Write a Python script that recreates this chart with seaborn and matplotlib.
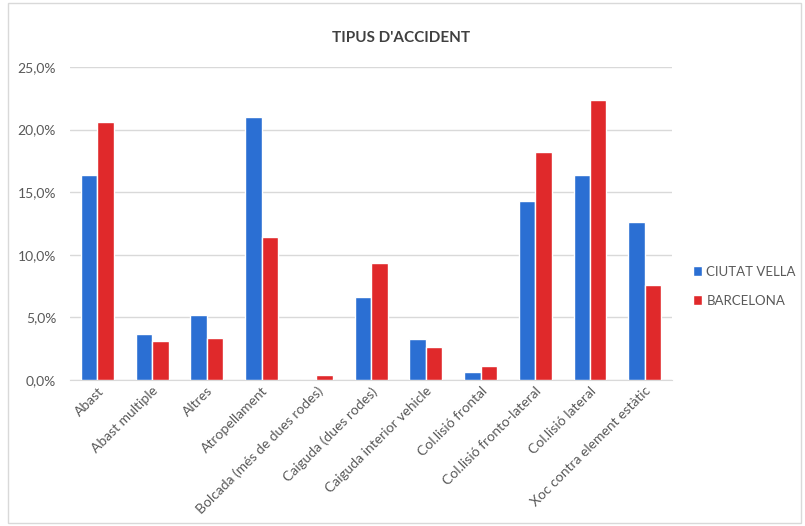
import pandas as pd
import seaborn as sns
import matplotlib.pyplot as plt
from matplotlib.ticker import FuncFormatter

# Accident types and share of accidents (%) for each area
categories = [
    "Abast", "Abast multiple", "Altres", "Atropellament",
    "Bolcada (més de dues rodes)", "Caiguda (dues rodes)",
    "Caiguda interior vehicle", "Col.lisió frontal",
    "Col.lisió fronto-lateral", "Col.lisió lateral",
    "Xoc contra element estàtic",
]
ciutat_vella = [16.4, 3.65, 5.2, 21.0, 0.0, 6.65, 3.3, 0.65, 14.3, 16.4, 12.6]
barcelona = [20.6, 3.1, 3.35, 11.45, 0.4, 9.35, 2.65, 1.15, 18.2, 22.4, 7.55]
series = ["CIUTAT VELLA", "BARCELONA"]

df = pd.DataFrame({
    "Tipus": categories * 2,
    "Zona": [series[0]] * len(categories) + [series[1]] * len(categories),
    "Valor": ciutat_vella + barcelona,
})

sns.set_style("white")
plt.rcParams["font.family"] = ["Lato", "DejaVu Sans"]

fig = plt.figure(figsize=(8.05, 5.26), dpi=100)
ax = fig.add_axes([0.087, 0.2776, 0.748, 0.595])

palette = {"CIUTAT VELLA": "#2b6fd3", "BARCELONA": "#e0292b"}
sns.barplot(data=df, x="Tipus", y="Valor", hue="Zona", palette=palette,
            width=0.6, saturation=1, ax=ax, zorder=3)

ax.set_ylim(0, 25)
ax.set_yticks([0, 5, 10, 15, 20, 25])
ax.yaxis.set_major_formatter(FuncFormatter(lambda v, p: f"{v:.1f}%".replace(".", ",")))
ax.grid(axis="y", color="#d9d9d9", linewidth=1, zorder=0)
ax.set_xlabel("")
ax.set_ylabel("")
for s in ["top", "right", "left"]:
    ax.spines[s].set_visible(False)
ax.spines["bottom"].set_color("#d9d9d9")
ax.tick_params(axis="both", length=0, colors="#595959", labelsize=10)
ax.tick_params(axis="y", pad=10)
plt.setp(ax.get_xticklabels(), rotation=45, ha="right", rotation_mode="anchor")

ax.set_title("TIPUS D'ACCIDENT", fontsize=11, fontweight="bold", color="#404040",
             x=0.55, pad=18)

ax.legend(loc="center left", bbox_to_anchor=(1.015, 0.3), frameon=False,
          handlelength=0.7, handleheight=0.7, labelspacing=1.3, fontsize=9.5,
          labelcolor="#595959", handletextpad=0.3)

# light border around the chart area
fig.patches.append(plt.Rectangle((0.01, 0.005), 0.985, 0.99, transform=fig.transFigure,
                                 fill=False, edgecolor="#d9d9d9", linewidth=1))

fig.savefig("out.png", dpi=100)
